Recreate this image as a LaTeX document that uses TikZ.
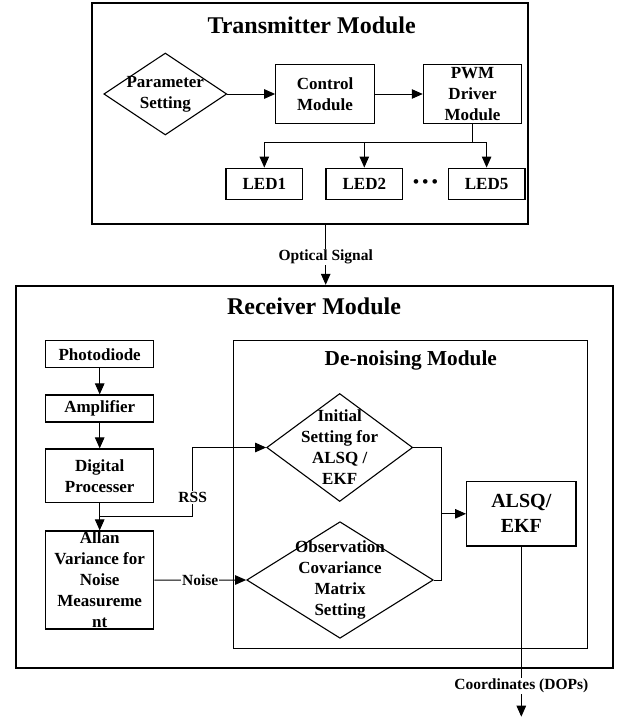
\documentclass[tikz,border=0pt]{standalone}
\usepackage{fontspec}
\setmainfont{Liberation Serif}
\usetikzlibrary{shapes.geometric,arrows.meta,positioning,calc}

\begin{document}
\begin{tikzpicture}[x=1pt, y=-1pt,
	every node/.style={font=\bfseries\fontsize{17}{21}\selectfont, align=center, inner sep=0pt},
	block/.style={rectangle, draw, line width=1.2pt},
	led/.style={block, minimum width=76.7pt, minimum height=31.7pt},
	column/.style={block, minimum width=108pt},
	decision/.style={diamond, draw, line width=1.1pt, inner sep=-8pt},
	frame/.style={rectangle, draw, line width=1.8pt},
	title/.style={font=\bfseries\fontsize{24}{27}\selectfont},
	lbl/.style={fill=white, inner sep=1pt, font=\bfseries\fontsize{15.5}{18}\selectfont},
	link/.style={line width=1pt},
	flow/.style={link, -{Triangle[length=11pt, width=9.5pt]}}]
	\useasboundingbox (0,0) rectangle (616,717);

	\node[frame, minimum width=436.6pt, minimum height=221pt] (tx) at (310,113.5) {};
	\node[title] (txtitle) at (311.7,25) {Transmitter Module};
	\node[decision, aspect=1.5, minimum width=123pt, minimum height=82pt] (param) at (165.3,94) {Parameter\\Setting};
	\node[block, minimum width=98.6pt, minimum height=59pt, right=47.8pt of param] (ctrl) {Control\\Module};
	\node[block, minimum width=98.4pt, minimum height=59.7pt, right=47.8pt of ctrl] (pwm) {PWM\\Driver\\Module};
	\node[led] (led1) at (264.3,184) {LED1};
	\node[led, right=22.1pt of led1] (led2) {LED2};
	\node[led, right=44.4pt of led2] (led5) {LED5};
	\node (dots) at ($(led2.east)!0.5!(led5.west)$) {•\hspace{3.5pt}•\hspace{3.5pt}•};

	\draw[flow] (param) -- (ctrl);
	\draw[flow] (ctrl) -- (pwm);
	\draw[link] (pwm.south) -- ++(0,17.7) coordinate (fork);
	\draw[link] (led1.north |- fork) -- (led5.north |- fork);
	\foreach \l in {led1,led2,led5}
		\draw[flow] (\l.north |- fork) -- (\l.north);

	\node[frame, minimum width=597.3pt, minimum height=382.6pt] (rx) at (314.7,477) {};
	\node[lbl] (optical) at (325.7,257) {Optical Signal};
	\draw[link] (tx.south -| optical) -- (optical);
	\draw[flow] (optical) -- (optical |- rx.north);

	\node[title] (rxtitle) at (314,306.5) {Receiver Module};
	\node[frame, line width=1.4pt, minimum width=354pt, minimum height=307.8pt] (dn) at (410.7,494.4) {};
	\node[font=\bfseries\fontsize{21.3}{24}\selectfont] (dntitle) at (410.8,360.7) {De-noising Module};

	\node[column, minimum height=27pt] (photo) at (99.7,354.2) {Photodiode};
	\node[column, minimum height=27pt, below=26.1pt of photo] (amp) {Amplifier};
	\node[column, minimum height=53.7pt, below=25.8pt of amp] (dsp) {Digital\\Processer};
	\node[column, minimum height=98pt, below=27.1pt of dsp] (allan) {Allan\\Variance for\\Noise\\Measureme\\nt};

	\node[decision, aspect=1.35, minimum width=146pt, minimum height=108pt] (init) at (339.7,447.5) {Initial\\Setting for\\ALSQ /\\EKF};
	\node[decision, aspect=1.6, minimum width=186.6pt, minimum height=116.6pt] (obs) at (340,580) {Observation\\Covariance\\Matrix\\Setting};
	\node[block, minimum width=109.3pt, minimum height=64.3pt, font=\bfseries\fontsize{20}{25}\selectfont] (alsq) at (521.3,513.8) {ALSQ/\\EKF};

	\draw[flow] (photo) -- (amp);
	\draw[flow] (amp) -- (dsp);
	\draw[flow] (dsp) -- (allan);
	\coordinate (split) at ($(dsp.south)!0.5!(allan.north)$);
	\coordinate (rssup) at (192.7,0);
	\draw[flow] (split) -| node[lbl, pos=0.64] {RSS} (rssup |- init.west) -- (init.west);
	\draw[flow] (allan) -- node[lbl] {Noise} (obs);

	\coordinate (merge) at ($(alsq.west)+(-24.4,0)$);
	\draw[link] (init.east) -| (merge);
	\draw[link] (obs.east) -| (merge);
	\draw[flow] (merge) -- (alsq.west);

	\node[lbl] (coords) at (521.3,686) {Coordinates (DOPs)};
	\coordinate (out) at (521.3,716.7);
	\draw[link] (alsq) -- (coords);
	\draw[flow] (coords) -- (out);
\end{tikzpicture}
\end{document}
